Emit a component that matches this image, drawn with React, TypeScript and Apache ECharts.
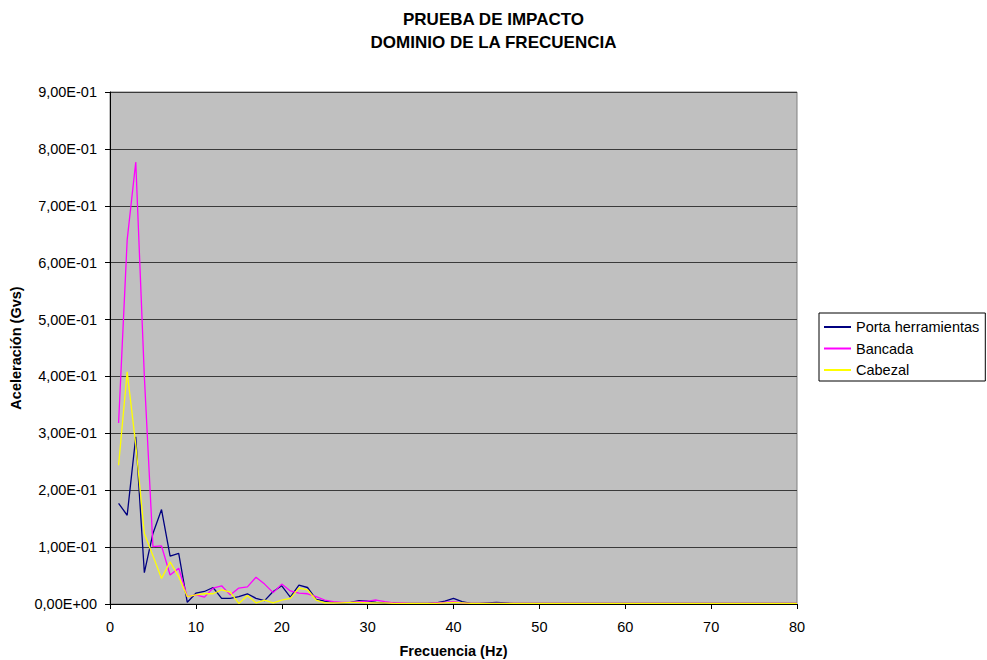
import React, { useEffect, useRef } from "react";
import * as echarts from "echarts";

const titleLines = ["PRUEBA DE IMPACTO", "DOMINIO DE LA FRECUENCIA"];
const xName = "Frecuencia (Hz)";
const yName = "Aceleración (Gvs)";
const seriesNames = ["Porta herramientas", "Bancada", "Cabezal"];
const seriesColors = ["#000080", "#FF00FF", "#FFFF00"];

const freqs = [
  1, 2, 3, 4, 5, 6, 7, 8, 9, 10, 11, 12, 13, 14, 15, 16, 17, 18, 19, 20,
  21, 22, 23, 24, 25, 26, 27, 28, 29, 30, 31, 32, 33, 34, 35, 36, 37, 38, 39, 40,
  41, 42, 43, 44, 45, 46, 47, 48, 49, 50, 51, 52, 53, 54, 55, 56, 57, 58, 59, 60,
  61, 62, 63, 64, 65, 66, 67, 68, 69, 70, 71, 72, 73, 74, 75, 76, 77, 78, 79, 80,
];

const portaHerramientas = [
  0.177, 0.156, 0.294, 0.055, 0.124, 0.166, 0.084, 0.089, 0.003, 0.019,
  0.022, 0.029, 0.010, 0.010, 0.013, 0.018, 0.010, 0.006, 0.022, 0.032,
  0.012, 0.033, 0.029, 0.008, 0.005, 0.003, 0.002, 0.003, 0.006, 0.005,
  0.003, 0.002, 0.002, 0.001, 0.001, 0.001, 0.001, 0.002, 0.005, 0.010,
  0.004, 0.001, 0.001, 0.002, 0.003, 0.002, 0.001, 0.001, 0.001, 0.001,
  0.001, 0.001, 0.001, 0.001, 0.001, 0.001, 0.001, 0.001, 0.001, 0.001,
  0.001, 0.001, 0.001, 0.001, 0.001, 0.001, 0.001, 0.001, 0.001, 0.001,
  0.001, 0.001, 0.001, 0.001, 0.001, 0.001, 0.001, 0.001, 0.001, 0.001,
];

const bancada = [
  0.318, 0.640, 0.777, 0.400, 0.101, 0.102, 0.051, 0.063, 0.013, 0.016,
  0.012, 0.028, 0.032, 0.016, 0.028, 0.030, 0.047, 0.035, 0.020, 0.035,
  0.023, 0.019, 0.018, 0.013, 0.007, 0.004, 0.003, 0.003, 0.004, 0.005,
  0.007, 0.004, 0.002, 0.002, 0.001, 0.001, 0.001, 0.002, 0.003, 0.004,
  0.002, 0.001, 0.001, 0.001, 0.001, 0.001, 0.001, 0.001, 0.001, 0.001,
  0.001, 0.001, 0.001, 0.001, 0.001, 0.001, 0.001, 0.001, 0.001, 0.001,
  0.001, 0.001, 0.001, 0.001, 0.001, 0.001, 0.001, 0.001, 0.001, 0.001,
  0.001, 0.001, 0.001, 0.001, 0.001, 0.001, 0.001, 0.001, 0.001, 0.001,
];

const cabezal = [
  0.244, 0.408, 0.280, 0.124, 0.085, 0.045, 0.074, 0.048, 0.013, 0.016,
  0.018, 0.018, 0.025, 0.021, 0.001, 0.015, 0.002, 0.007, 0.002, 0.007,
  0.010, 0.028, 0.025, 0.007, 0.002, 0.002, 0.002, 0.003, 0.003, 0.002,
  0.002, 0.002, 0.001, 0.001, 0.001, 0.001, 0.001, 0.001, 0.002, 0.003,
  0.002, 0.001, 0.001, 0.001, 0.001, 0.001, 0.001, 0.001, 0.001, 0.001,
  0.001, 0.001, 0.001, 0.001, 0.001, 0.001, 0.001, 0.001, 0.001, 0.001,
  0.001, 0.001, 0.001, 0.001, 0.001, 0.001, 0.001, 0.001, 0.001, 0.001,
  0.001, 0.001, 0.001, 0.001, 0.001, 0.001, 0.001, 0.001, 0.001, 0.001,
];

const allValues = [portaHerramientas, bancada, cabezal];

function fmtSci(v: number): string {
  if (Math.abs(v) < 1e-12) return "0,00E+00";
  let e = Math.floor(Math.log10(Math.abs(v)) + 1e-9);
  let m = v / Math.pow(10, e);
  let s = m.toFixed(2);
  if (s === "10.00") {
    e += 1;
    s = "1.00";
  }
  const sign = e < 0 ? "-" : "+";
  const ee = String(Math.abs(e)).padStart(2, "0");
  return `${s.replace(".", ",")}E${sign}${ee}`;
}

const FONT = "'Liberation Sans', Arial, sans-serif";

export default function App() {
  const ref = useRef<HTMLDivElement>(null);
  useEffect(() => {
    if (!ref.current) return;
    const chart = echarts.init(ref.current, undefined, { renderer: "svg" });
    chart.setOption({
      animation: false,
      backgroundColor: "#ffffff",
      textStyle: { fontFamily: FONT },
      title: {
        text: titleLines.join("\n"),
        left: "center",
        top: 3,
        textStyle: {
          fontFamily: FONT,
          fontSize: 17,
          fontWeight: "bold",
          color: "#000",
          lineHeight: 23,
        },
      },
      legend: {
        data: seriesNames,
        orient: "vertical",
        left: 819,
        top: 313,
        padding: [6, 6, 3, 5],
        itemGap: 5.5,
        itemWidth: 27,
        itemHeight: 2,
        itemTextGap: 5,
        icon: "rect",
        borderColor: "#000",
        borderWidth: 1,
        backgroundColor: "#fff",
        textStyle: { fontFamily: FONT, fontSize: 14.5, color: "#000", lineHeight: 16 },
      },
      grid: {
        left: 110,
        right: 190,
        top: 92,
        bottom: 56,
        containLabel: false,
        outerBoundsMode: "none",
        show: true,
        backgroundColor: "#C0C0C0",
        borderColor: "#808080",
        borderWidth: 1,
      },
      xAxis: {
        type: "value",
        min: 0,
        max: 80,
        interval: 10,
        name: xName,
        nameLocation: "middle",
        nameGap: 39,
        nameTextStyle: { fontFamily: FONT, fontSize: 14.5, fontWeight: "bold", color: "#000" },
        axisLine: { show: true, onZero: false, lineStyle: { color: "#000", width: 1 } },
        axisTick: { show: true, inside: false, length: 5, lineStyle: { color: "#000" } },
        axisLabel: { fontFamily: FONT, fontSize: 14.5, color: "#000", margin: 15 },
        splitLine: { show: false },
      },
      yAxis: {
        type: "value",
        min: 0,
        max: 0.9,
        interval: 0.1,
        name: yName,
        nameLocation: "middle",
        nameGap: 84,
        nameTextStyle: { fontFamily: FONT, fontSize: 14.5, fontWeight: "bold", color: "#000" },
        axisLine: { show: true, lineStyle: { color: "#000", width: 1 } },
        axisTick: { show: true, inside: false, length: 5, lineStyle: { color: "#000" } },
        axisLabel: {
          fontFamily: FONT,
          fontSize: 14.5,
          color: "#000",
          margin: 13,
          formatter: (v: number) => fmtSci(v),
        },
        splitLine: { show: true, lineStyle: { color: "#3a3a3a", width: 1 } },
      },
      series: seriesNames.map((name, i) => ({
        name,
        type: "line",
        data: freqs.map((f, j) => [f, allValues[i][j]]),
        showSymbol: false,
        symbol: "none",
        lineStyle: { color: seriesColors[i], width: 1.3 },
        itemStyle: { color: seriesColors[i] },
        clip: true,
      })),
    });
    return () => chart.dispose();
  }, []);
  return (
    <div
      ref={ref}
      style={{ position: "absolute", left: 0, top: 0, width: 987, height: 660 }}
    />
  );
}
